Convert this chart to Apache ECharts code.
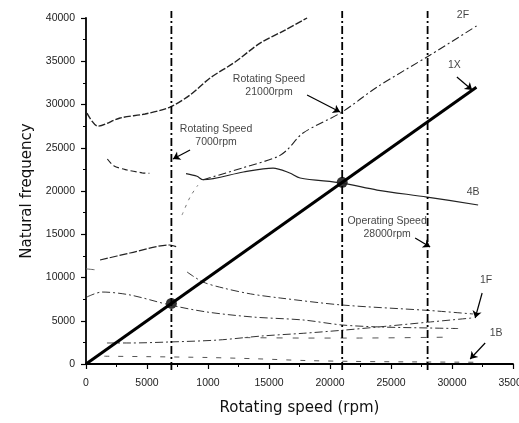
<!DOCTYPE html>
<html>
<head>
<meta charset="utf-8">
<script src="https://cdn.jsdelivr.net/npm/echarts@6/dist/echarts.min.js"></script>
<style>
  html, body { margin: 0; padding: 0; background: #fff; }
  #chart { width: 519px; height: 423px; }
</style>
</head>
<body>
<div id="chart"></div>
<script>
// Campbell diagram - natural frequency vs rotating speed
const xTickLabels = ['0', '5000', '1000', '15000', '20000', '25000', '30000', '35000'];
const yTickLabels = ['0', '5000', '10000', '15000', '20000', '25000', '30000', '35000', '40000'];

const topMode = [[80, 29000], [985, 27500], [2790, 28440], [4840, 28900], [6890, 29700], [8530, 31100],
  [10170, 33060], [12220, 34910], [14270, 37100], [16320, 38600], [18120, 40000]];
const upperLeft = [[1750, 23700], [2300, 22900], [3360, 22430], [4600, 22100], [5200, 22050]];
const mode4B = [[8200, 22000], [9100, 21700], [9600, 21300], [12900, 22200], [15330, 22650], [16700, 22080],
  [17550, 21500], [20990, 20920], [23860, 20110], [27960, 19300], [32140, 18380]];
const mode2F = [[9600, 21300], [12900, 22700], [15660, 23930], [16480, 24740], [17790, 26700],
  [20990, 29130], [23860, 32020], [28210, 35720], [32140, 39190]];
const faintRise = [[7870, 17220], [8530, 19300], [9180, 20690]];
const midLeft = [[1150, 12020], [3610, 12830], [6890, 13760], [7460, 13530]];
const leftStub = [[0, 11000], [700, 10900]];
const upperBackward = [[8280, 10640], [9590, 9480], [11230, 8790], [13500, 8100], [15910, 7630],
  [20990, 6820], [28200, 6180], [31730, 5780]];
const lowerBackward = [[80, 7750], [1310, 8320], [3610, 7980], [6890, 6820], [9920, 6010], [13690, 5430],
  [17790, 5090], [20990, 4510], [24110, 4280], [28200, 4160], [30500, 4100]];
const mode1F = [[1720, 2430], [3610, 2430], [6720, 2540], [10820, 2770], [14430, 3240], [17800, 3550],
  [21000, 3900], [24500, 4350], [28000, 4830], [31650, 5320]];
const lowDashes = [[13000, 3050], [18000, 3000], [22000, 3000], [29500, 3100]];
const mode1B = [[1500, 900], [5000, 850], [10000, 750], [14000, 600], [18000, 400], [22000, 300],
  [26000, 250], [32000, 200]];
const line1X = [[0, 0], [32000, 32000]];
const crossPoints = [[7000, 7000], [21000, 21000]];
const speedLines = [7000, 21000, 28000];

const notes = [
  { text: '2F', at: [30900, 40350] },
  { text: '1X', at: [30200, 34570] },
  { text: 'Rotating Speed\n21000rpm', at: [15000, 32200] },
  { text: 'Rotating Speed\n7000rpm', at: [10660, 26360] },
  { text: '4B', at: [31730, 19880] },
  { text: 'Operating Speed\n28000rpm', at: [24680, 15720] },
  { text: '1F', at: [32800, 9710] },
  { text: '1B', at: [33620, 3580] }
];
const arrows = [
  [[30400, 33180], [31650, 31670]],
  [[18120, 31100], [20830, 29130]],
  [[8530, 24740], [7130, 23700]],
  [[26980, 14570], [28210, 13520]],
  [[32470, 8210], [31900, 5320]],
  [[32720, 2430], [31490, 580]]
];

const font = "'Liberation Sans', Arial, sans-serif";
const chart = echarts.init(document.getElementById('chart'));

function curve(data, width, type, color) {
  return {
    type: 'line', data, symbol: 'none', smooth: 0.3, silent: true, clip: false,
    lineStyle: { color: color || '#222', width, type }
  };
}

const series = [
  curve(topMode, 1.4, [7, 2]),
  curve(upperLeft, 1.2, [6, 3]),
  curve(mode4B, 1.2, 'solid'),
  curve(mode2F, 1.1, [8, 3, 2, 3]),
  curve(faintRise, 1, [3, 5], '#777'),
  curve(midLeft, 1.2, [8, 2]),
  curve(leftStub, 1, 'solid', '#666'),
  curve(upperBackward, 1, [8, 3, 2, 3], '#333'),
  curve(lowerBackward, 1, [8, 3, 2, 3], '#333'),
  curve(mode1F, 1, [8, 3, 2, 3], '#333'),
  curve(lowDashes, 1, [6, 10], '#555'),
  curve(mode1B, 1, [5, 9], '#555'),
  { type: 'line', data: line1X, symbol: 'none', silent: true, lineStyle: { color: '#000', width: 3 } }
];

speedLines.forEach(s => {
  series.push({
    type: 'line', data: [[s, -700], [s, 40800]], symbol: 'none', clip: false, silent: true,
    lineStyle: { color: '#000', width: 1.8, type: [8, 3, 2, 3] }
  });
});

series.push({
  type: 'scatter', data: crossPoints, symbolSize: 11, silent: true,
  itemStyle: { color: '#000' }
});

series.push({
  type: 'lines', coordinateSystem: 'cartesian2d', silent: true,
  symbol: ['none', 'arrow'], symbolSize: 7,
  lineStyle: { color: '#000', width: 1.2, opacity: 1 },
  data: arrows.map(a => ({ coords: a }))
});

series.push({
  type: 'scatter', clip: false, silent: true, symbolSize: 1,
  itemStyle: { color: 'rgba(0,0,0,0)' },
  data: notes.map(n => ({ value: n.at, name: n.text })),
  label: {
    show: true, position: 'inside', formatter: p => p.name,
    color: '#111', fontSize: 10.5, fontFamily: font, lineHeight: 13, align: 'center'
  }
});

const option = {
  backgroundColor: '#fff',
  animation: false,
  grid: { left: 86, right: 6, top: 18, bottom: 59, containLabel: false, outerBoundsMode: 'none' },
  xAxis: {
    type: 'value', min: 0, max: 35000, interval: 5000,
    name: 'Rotating speed (rpm)', nameLocation: 'middle', nameGap: 37,
    nameTextStyle: { fontSize: 15, fontFamily: "'DejaVu Sans', sans-serif", color: '#111' },
    axisLine: { lineStyle: { color: '#000', width: 1.8 } },
    axisTick: { length: 5, lineStyle: { color: '#000', width: 1.2 } },
    minorTick: { show: true, splitNumber: 2, length: 3, lineStyle: { color: '#000', width: 1 } },
    splitLine: { show: false },
    axisLabel: {
      margin: 14, fontSize: 10.5, fontFamily: font, color: '#222',
      formatter: v => xTickLabels[Math.round(v / 5000)]
    }
  },
  yAxis: {
    type: 'value', min: 0, max: 40000, interval: 5000,
    name: 'Natural frequency', nameLocation: 'middle', nameGap: 51,
    nameTextStyle: { fontSize: 15, fontFamily: "'DejaVu Sans', sans-serif", color: '#111' },
    axisLine: { show: true, lineStyle: { color: '#000', width: 1.8 } },
    axisTick: { show: true, length: 5, lineStyle: { color: '#000', width: 1.2 } },
    minorTick: { show: true, splitNumber: 2, length: 3, lineStyle: { color: '#000', width: 1 } },
    splitLine: { show: false },
    axisLabel: {
      margin: 11, fontSize: 10.5, fontFamily: font, color: '#222',
      formatter: v => yTickLabels[Math.round(v / 5000)]
    }
  },
  series
};

chart.setOption(option);
</script>
</body>
</html>
